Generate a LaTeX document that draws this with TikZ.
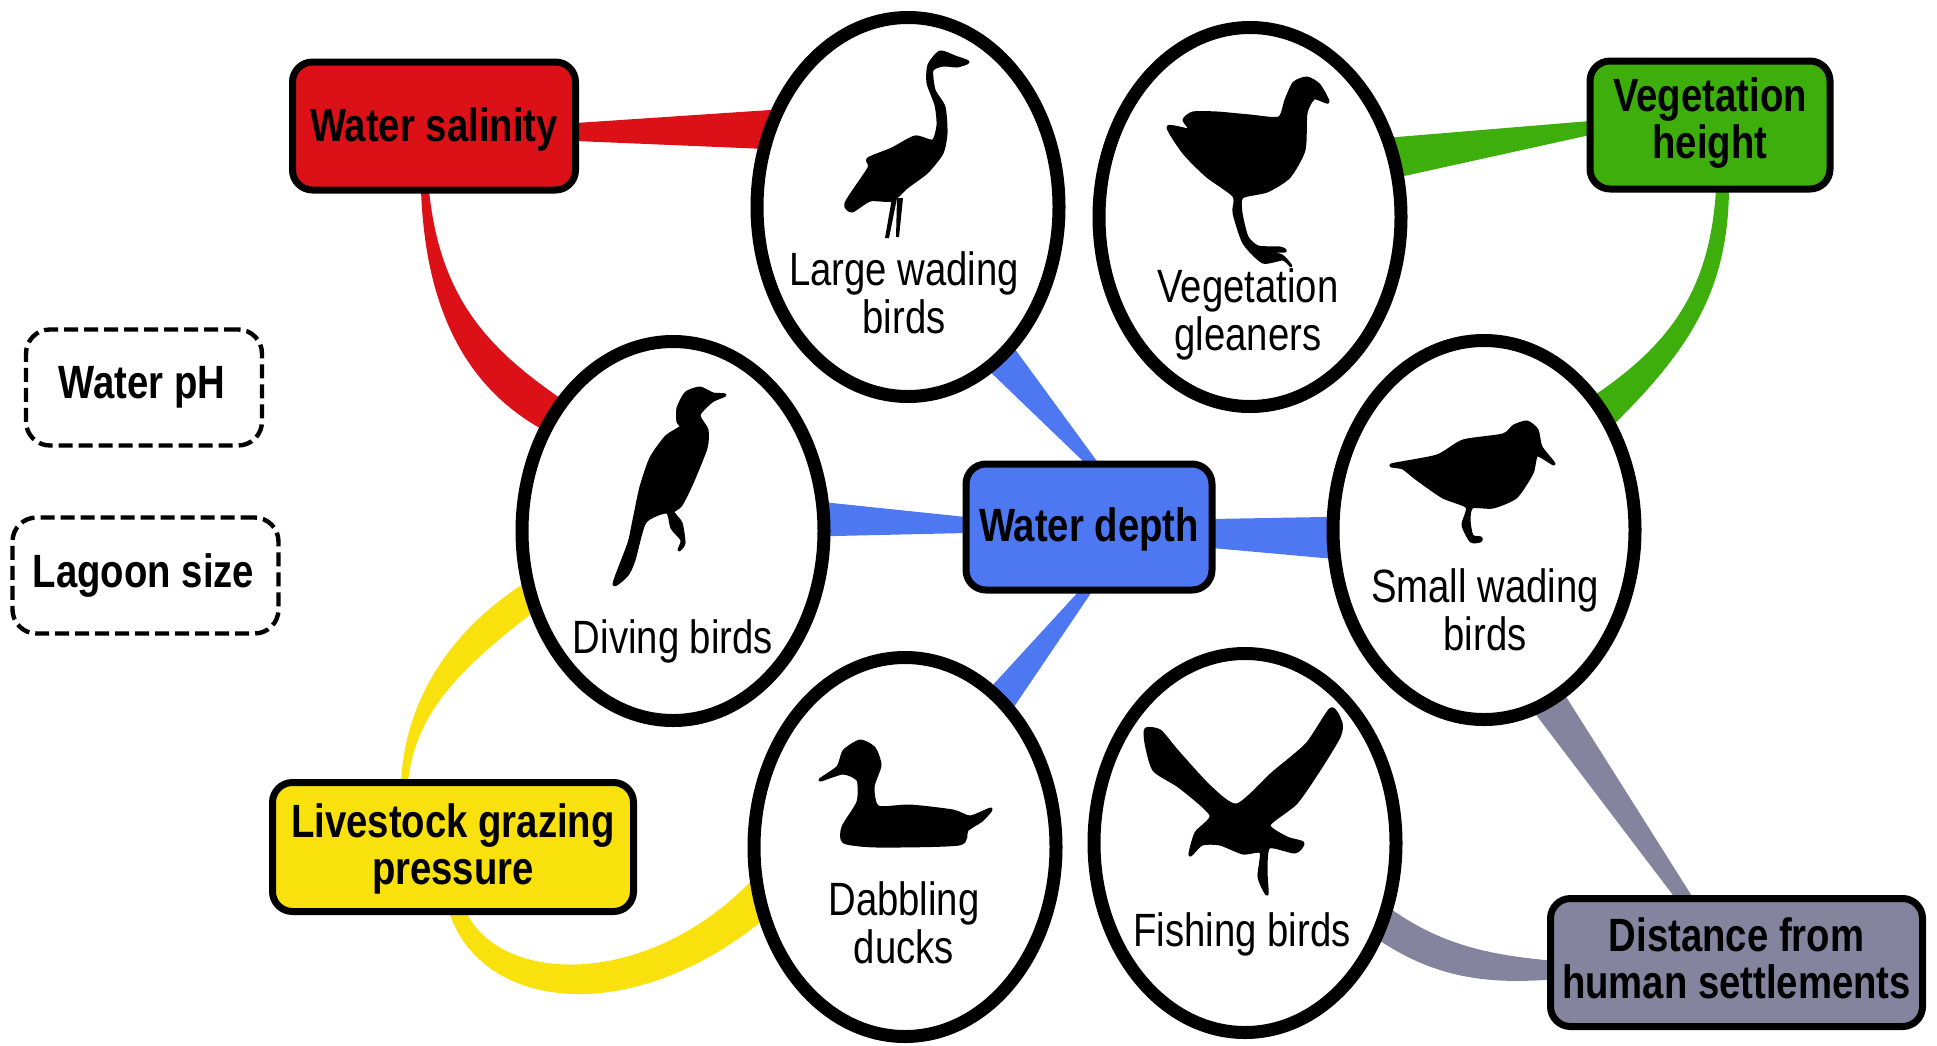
\documentclass[tikz,border=0pt]{standalone}
\usepackage{fontspec}
\setmainfont[FakeStretch=0.82]{Liberation Sans}
\usepackage{xcolor}
\usetikzlibrary{backgrounds, calc, shapes.geometric}

\definecolor{saltred}{HTML}{DC1118}
\definecolor{vegegreen}{HTML}{3DAE0C}
\definecolor{depthblue}{HTML}{4D78F2}
\definecolor{grazeyellow}{HTML}{F9E10E}
\definecolor{settlegrey}{HTML}{85849F}

\begin{document}
\begin{tikzpicture}[
  x=0.5pt, y=-0.5pt,
  every node/.style={font=\fontsize{23.35}{24}\selectfont, align=center, inner sep=0pt, outer sep=0pt},
  guild/.style={ellipse, draw=black, fill=white, line width=6.5pt,
                minimum width=151pt, minimum height=189.5pt},
  factor/.style={rectangle, rounded corners=10pt, draw=black, line width=3.5pt,
                 font=\fontsize{23.35}{23.5}\selectfont\bfseries},
  unlinked/.style={rectangle, rounded corners=12pt, draw=black, fill=white, line width=2.2pt,
                   dash pattern=on 7pt off 3pt,
                   font=\fontsize{23.35}{23.5}\selectfont\bfseries},
  silhouette/.style={fill=black, draw=black, line width=1.5pt, line join=round}
]
  \useasboundingbox (0,0) rectangle (1937,1045);

  % bird guilds
  \node[guild] (large) at (908,207) {};
  \node[guild] (gleaner) at (1250,217) {};
  \node[guild] (diving) at (673,531) {};
  \node[guild] (small) at (1484,530) {};
  \node[guild] (dabbling) at (905,847) {};
  \node[guild] (fishing) at (1245,843) {};

  % habitat factors
  \node[factor, fill=saltred, minimum width=141.5pt, minimum height=64pt, text depth=1.8pt] (salinity) at (434,126) {Water salinity};
  \node[factor, fill=vegegreen, minimum width=120pt, minimum height=64pt, text depth=6.8pt] (height) at (1710,125) {Vegetation\\height};
  \node[factor, fill=depthblue, minimum width=123pt, minimum height=63pt, text depth=2pt] (depth) at (1089,527) {Water depth};
  \node[factor, fill=grazeyellow, minimum width=180.5pt, minimum height=64.5pt, text depth=2.8pt] (grazing) at (453,847) {Livestock grazing\\pressure};
  \node[factor, fill=settlegrey, minimum width=186pt, minimum height=64pt, text depth=4pt] (settle) at (1736.5,962.5) {Distance from\\human settlements};
  \node[unlinked, minimum width=118pt, minimum height=58pt] (ph) at (144,387.5) {Water pH\hspace*{2pt}};
  \node[unlinked, minimum width=133pt, minimum height=58pt] (lagoon) at (145.5,575.5) {Lagoon size\hspace*{2pt}};

  \begin{scope}[on background layer]
    \fill[saltred] ($(salinity.east)+(0,-3)$) -- (large.143) -- (large.158) -- ($(salinity.east)+(0,15)$) -- cycle;
    \fill[saltred] ($(salinity.south)+(-13,0)$) .. controls (425,300) and (460,385) .. (diving.142)
      -- (diving.130) .. controls (490,350) and (440,300) .. ($(salinity.south)+(-5,0)$) -- cycle;
    \fill[vegegreen] ($(height.west)+(0,-4)$) -- (gleaner.30) -- (gleaner.15) -- ($(height.west)+(0,10)$) -- cycle;
    \fill[vegegreen] ($(height.south)+(6,0)$) .. controls (1710,290) and (1670,345) .. (small.51)
      -- (small.39) .. controls (1690,350) and (1728,290) .. ($(height.south)+(19,0)$) -- cycle;
    \fill[depthblue] ($(depth.north)+(-3,0)$) -- (large.-64) -- (large.-53) -- ($(depth.north)+(10,0)$) -- cycle;
    \fill[depthblue] ($(depth.west)+(0,-10)$) -- (diving.11) -- (diving.-2) -- ($(depth.west)+(0,6)$) -- cycle;
    \fill[depthblue] ($(depth.east)+(0,-8)$) -- (small.175) -- (small.191) -- ($(depth.east)+(0,21)$) -- cycle;
    \fill[depthblue] ($(depth.south)+(-9,0)$) -- (dabbling.62) -- (dabbling.52) -- ($(depth.south)+(4,0)$) -- cycle;
    \fill[grazeyellow] ($(grazing.north)+(-52,0)$) .. controls (405,700) and (450,630) .. (diving.199)
      -- (diving.210) .. controls (465,665) and (415,710) .. ($(grazing.north)+(-45,0)$) -- cycle;
    \fill[grazeyellow] ($(grazing.south)+(-4,0)$) .. controls (480,1010) and (630,1030) .. (dabbling.207)
      -- (dabbling.191) .. controls (650,990) and (500,985) .. ($(grazing.south)+(13,0)$) -- cycle;
    \fill[settlegrey] ($(settle.north)+(-61,0)$) -- (small.-75) -- (small.-64) -- ($(settle.north)+(-43,0)$) -- cycle;
    \fill[settlegrey] (fishing.-24) .. controls (1440,945) and (1490,955) .. ($(settle.west)+(0,-2)$)
      -- ($(settle.west)+(0,17)$) .. controls (1480,985) and (1430,975) .. (fishing.-36) -- cycle;
  \end{scope}

  % silhouettes
  \fill[silhouette] plot[smooth cycle, tension=0.4] coordinates {(968,62) (955,57) (940,52) (929,65) (928,83) (936,105) (938,125) (933,141)
    (915,137) (892,149) (868,159) (869,168) (846,203) (852,211) (870,200) (892,200)
    (907,187) (927,172) (942,153) (946,133) (944,107) (934,90) (932,70) (943,65) (957,66)};
  \fill (892,198) -- (885,238) -- (889,238) -- (897,198) -- cycle;
  \fill (897,198) -- (896,237) -- (899,237) -- (903,198) -- cycle;
  \fill[silhouette] plot[smooth cycle, tension=0.4] coordinates {(725,395) (713,394) (700,388) (686,393) (678,408) (678,422) (681,427)
    (666,437) (651,458) (641,487) (634,520) (629,543) (614,584) (627,575) (634,560)
    (645,522) (667,512) (672,528) (682,540) (679,550) (684,543) (681,523) (673,512)
    (681,505) (692,483) (706,448) (707,430) (699,415) (712,401)};
  \fill[silhouette] plot[smooth cycle, tension=0.4] coordinates {(1328,102) (1319,85) (1307,78) (1294,83) (1286,100) (1279,118) (1250,116)
    (1217,113) (1193,113) (1184,120) (1190,130) (1168,127) (1184,153) (1207,176)
    (1234,196) (1234,213) (1244,243) (1263,262) (1283,259) (1291,266) (1282,256)
    (1266,251) (1285,251) (1280,248) (1258,247) (1247,237) (1241,213) (1242,197)
    (1267,191) (1289,177) (1304,150) (1306,113) (1314,98)};
  \fill[silhouette] plot[smooth cycle, tension=0.4] coordinates {(1391,465) (1437,456) (1463,441) (1503,435) (1514,426) (1527,422) (1537,430)
    (1541,447) (1554,464) (1537,455) (1532,473) (1516,497) (1493,507) (1472,507)
    (1469,520) (1472,536) (1481,538) (1480,541) (1471,541) (1463,525) (1467,507)
    (1443,497) (1417,479) (1403,468)};
  \fill[silhouette] plot[smooth cycle, tension=0.4] coordinates {(820,780) (838,767) (844,751) (860,741) (874,748) (880,765) (873,787)
    (878,807) (910,806) (953,811) (970,817) (991,809) (982,820) (967,830) (959,844)
    (877,846) (844,842) (843,827) (858,802) (858,780) (843,773)};
  \fill[silhouette] plot[smooth cycle, tension=0.4] coordinates {(1146,729) (1160,731) (1177,751) (1210,787) (1237,805) (1273,773) (1307,744)
    (1331,709) (1341,723) (1339,737) (1319,770) (1296,803) (1269,825) (1287,838)
    (1303,843) (1295,852) (1269,847) (1266,870) (1267,894) (1259,877) (1261,852)
    (1243,853) (1220,844) (1202,844) (1190,855) (1196,833) (1211,815) (1180,787)
    (1154,770) (1146,743)};

  % guild names
  \node (largetxt) at (904,293) {Large wading\\birds};
  \node (gleanertxt) at (1248,314) {Vegetation\\gleaners};
  \node (divingtxt) at (673,641) {Diving birds};
  \node (smalltxt) at (1485,610) {Small wading\\birds};
  \node (dabblingtxt) at (904,923) {Dabbling\\ducks};
  \node (fishingtxt) at (1242,934) {Fishing birds};
\end{tikzpicture}
\end{document}
